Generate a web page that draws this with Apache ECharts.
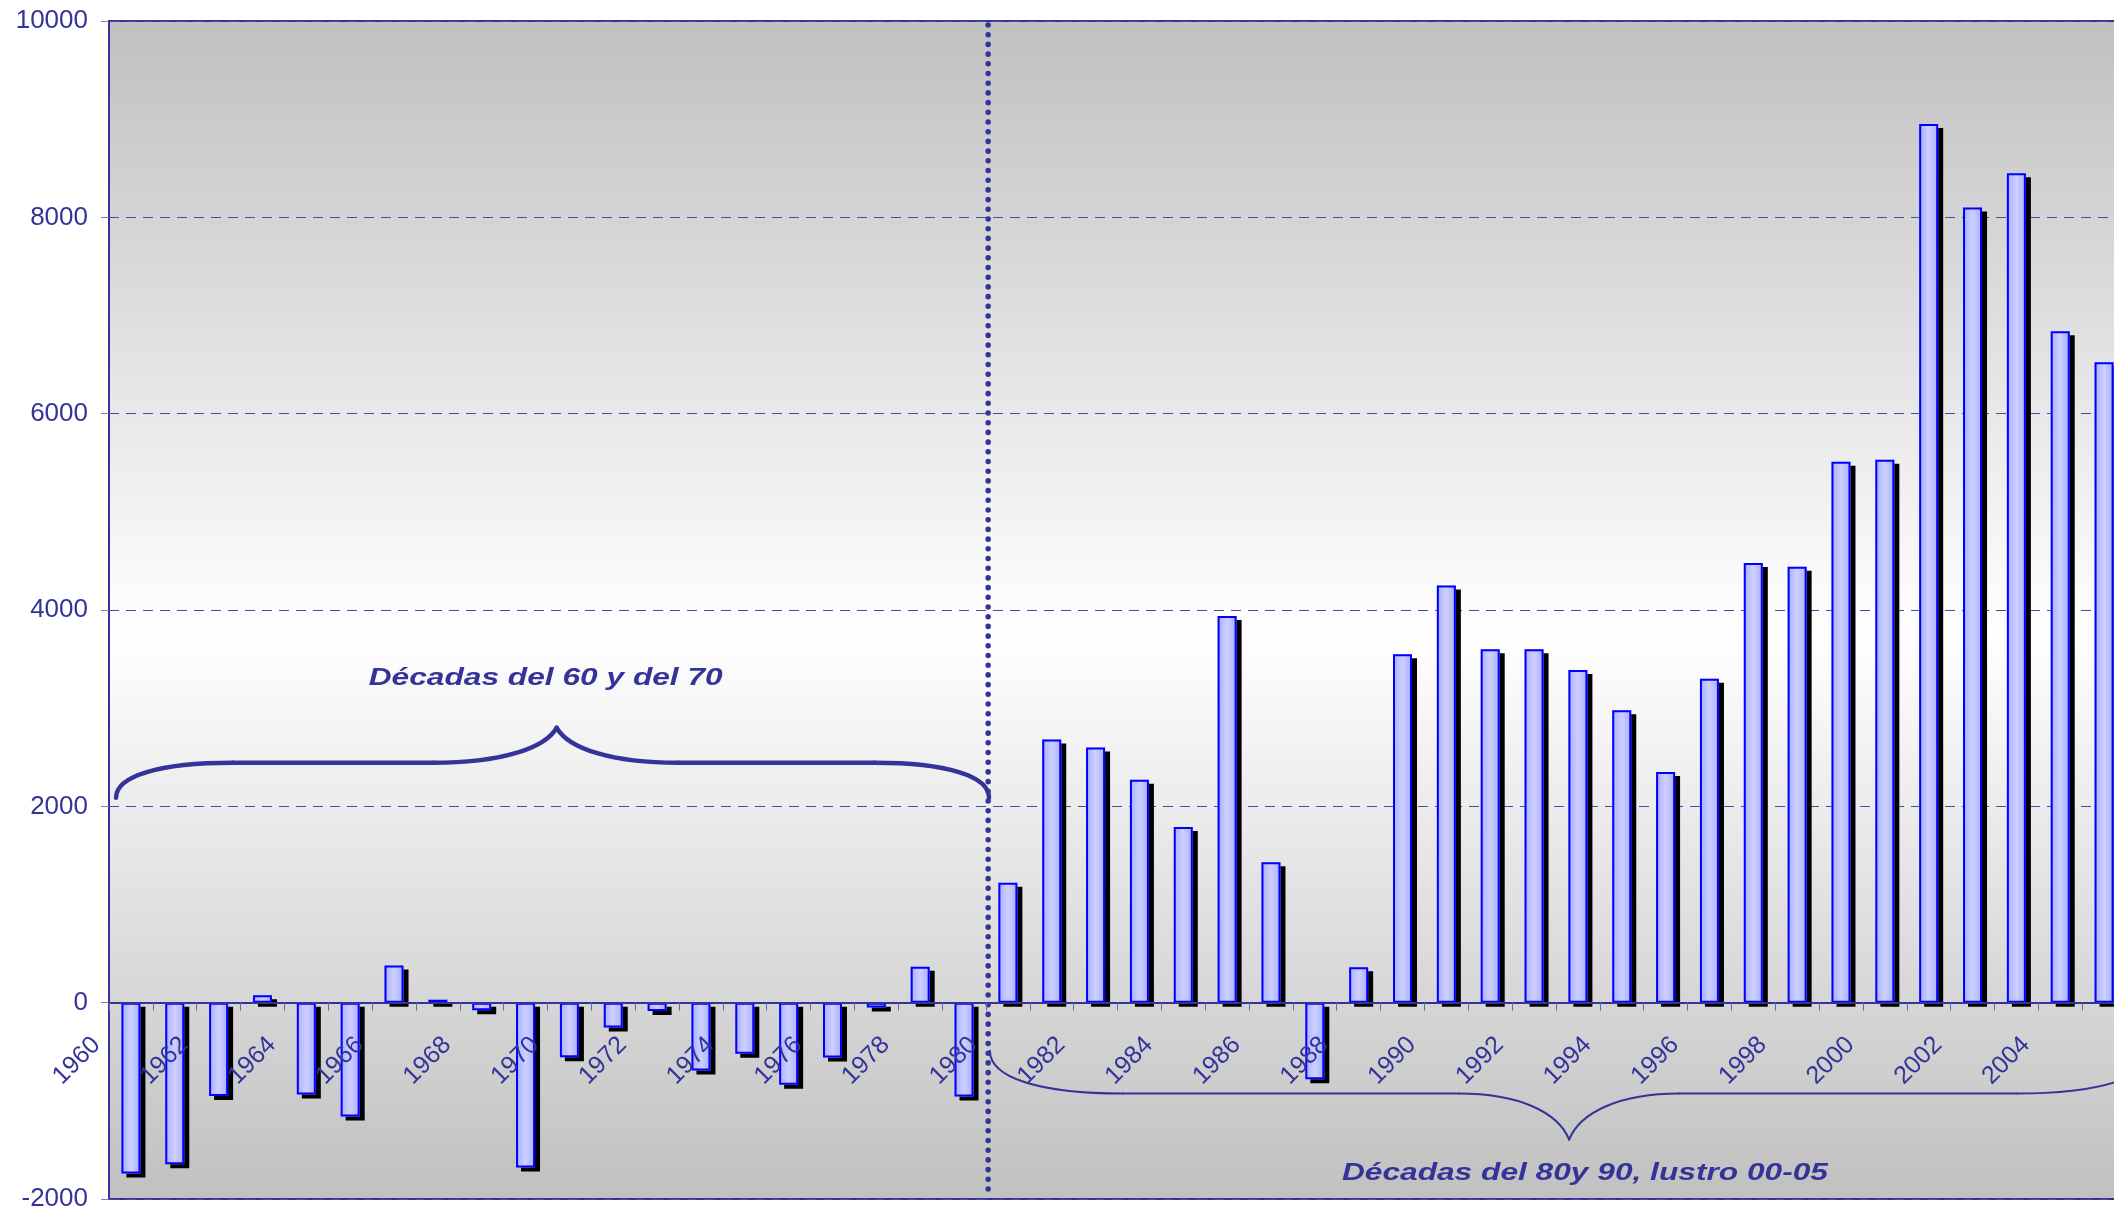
<!DOCTYPE html>
<html>
<head>
<meta charset="utf-8">
<script src="https://cdn.jsdelivr.net/npm/echarts/dist/echarts.min.js"></script>
<style>
html,body{margin:0;padding:0;background:#ffffff;}
#chart{width:2114px;height:1207px;}
</style>
</head>
<body>
<div id="chart"></div>
<script>
// ---- data ----
const years = ['1960','1961','1962','1963','1964','1965','1966','1967','1968','1969',
               '1970','1971','1972','1973','1974','1975','1976','1977','1978','1979',
               '1980','1981','1982','1983','1984','1985','1986','1987','1988','1989',
               '1990','1991','1992','1993','1994','1995','1996','1997','1998','1999',
               '2000','2001','2002','2003','2004','2005'];
const values = [-1740,-1645,-950,75,-935,-1160,378,30,-78,-1680,
                -555,-252,-85,-690,-520,-835,-558,-50,365,-957,
                1222,2680,2600,2270,1790,3940,1430,-780,360,3550,
                4250,3600,3600,3390,2980,2350,3300,4480,4440,5510,
                5530,8950,8100,8450,6840,6525];
const yTicks = [-2000,0,2000,4000,6000,8000,10000];
const annotationTexts = ['Décadas del 60 y del 70','Décadas del 80y 90, lustro 00-05'];

// ---- annotation geometry (in data coordinates: category index, value) ----
const dividerAt = 19.55;
const braceTop = {from:-0.34, to:19.57, tip:9.71, end:2087, mid:2443, peak:2800, a:0.265, b:0.28, width:4.5};
const braceBottom = {from:19.59, to:46.05, tip:32.8, end:-489, mid:-926, peak:-1395, a:0.23, b:0.19, width:2};
const textPos = [[9.46, 3308],[33.16, -1741]];

const C_DARK = '#333399';
const GRID = {left:109, top:21, width:2017, height:1178};
const yMin = yTicks[0], yMax = yTicks[yTicks.length-1];
const zeroFromBottom = GRID.height * (0 - yMin) / (yMax - yMin);

const chart = echarts.init(document.getElementById('chart'), null, {renderer:'canvas'});

const barFill = {type:'linear',x:0,y:0,x2:1,y2:0,colorStops:[
  {offset:0,color:'#a9adff'},{offset:0.5,color:'#cdd0ff'},{offset:1,color:'#a9adff'}]};

const option = {
  animation:false,
  backgroundColor:'#ffffff',
  grid:{
    left:GRID.left, top:GRID.top, width:GRID.width, height:GRID.height,
    outerBoundsMode:'none', containLabel:false,
    show:true, borderColor:C_DARK, borderWidth:2,
    backgroundColor:{type:'linear',x:0,y:0,x2:0,y2:1,colorStops:[
      {offset:0,color:'#c0c0c0'},{offset:0.52,color:'#ffffff'},{offset:1,color:'#c0c0c0'}]}
  },
  xAxis:[{
    type:'category', data:years, boundaryGap:true, position:'bottom',
    offset:-zeroFromBottom, z:10,
    axisLine:{show:true, onZero:false, lineStyle:{color:C_DARK, width:2}},
    axisTick:{show:true, interval:0, length:8, lineStyle:{color:'#6a6ab0', width:1}},
    axisLabel:{show:true, interval:1, rotate:45, margin:4, hideOverlap:false,
      formatter:function(v){ return v + '       '; },
      color:C_DARK, fontFamily:'Liberation Sans', fontSize:25},
    splitLine:{show:false}
  },{
    type:'value', min:-0.5, max:45.5, show:false
  }],
  yAxis:{
    type:'value', min:yMin, max:yMax, interval:2000,
    axisLine:{show:true, onZero:false, lineStyle:{color:C_DARK, width:2}},
    axisTick:{show:true, length:8, lineStyle:{color:'#8080c0', width:1}},
    axisLabel:{margin:21, color:C_DARK, fontFamily:'Liberation Sans', fontSize:26,
      formatter:function(v){ return String(v); }},
    splitLine:{show:true, lineStyle:{color:'#4a4aa0', width:1, type:[10,7]}}
  },
  series:[{
    type:'bar', xAxisIndex:0, yAxisIndex:0, data:values, barWidth:19,
    itemStyle:{color:barFill, borderWidth:0,
      shadowColor:'#000000', shadowOffsetX:5, shadowOffsetY:4, shadowBlur:0},
    emphasis:{disabled:true}, silent:true
  },{
    type:'bar', xAxisIndex:0, yAxisIndex:0, data:values, barWidth:19, barGap:'-100%',
    itemStyle:{color:'rgba(0,0,0,0)', borderColor:'#0000ff', borderWidth:2},
    emphasis:{disabled:true}, silent:true
  },{
    type:'line', xAxisIndex:1, yAxisIndex:0,
    data:[[dividerAt, 9960],[dividerAt, -1900]],
    symbol:'none', showSymbol:false, z:5, silent:true,
    lineStyle:{color:C_DARK, width:5.5, type:[0.1,9.6], cap:'round'}
  }]
};
chart.setOption(option);

function px(ix, v){ return chart.convertToPixel({seriesIndex:2}, [ix, v]); }

function braceElements(b){
  const L = px(b.from, b.end), R = px(b.to, b.end), T = px(b.tip, b.peak), M = px(b.tip, b.mid);
  const xl = L[0], xr = R[0], xt = T[0], yE = L[1], yM = M[1], yT = T[1];
  const hw = xt - xl, hw2 = xr - xt;
  const aL = b.a*hw, bL = b.b*hw, aR = b.a*hw2, bR = b.b*hw2;
  const dEM = yM - yE, dMT = yT - yM;
  const st = {stroke:C_DARK, lineWidth:b.width, fill:null, lineCap:'round'};
  const curve = (x1,y1,c1x,c1y,c2x,c2y,x2,y2) => ({type:'bezierCurve', silent:true,
    shape:{x1:x1,y1:y1,cpx1:c1x,cpy1:c1y,cpx2:c2x,cpy2:c2y,x2:x2,y2:y2}, style:st});
  const line = (x1,y1,x2,y2) => ({type:'line', silent:true, shape:{x1:x1,y1:y1,x2:x2,y2:y2}, style:st});
  return [
    curve(xl,yE, xl,yE+0.63*dEM, xl+0.37*aL,yM, xl+aL,yM),
    line(xl+aL,yM, xt-bL,yM),
    curve(xt-bL,yM, xt-0.46*bL,yM, xt-0.1*bL,yM+0.4*dMT, xt,yT),
    curve(xt,yT, xt+0.1*bR,yM+0.4*dMT, xt+0.46*bR,yM, xt+bR,yM),
    line(xt+bR,yM, xr-aR,yM),
    curve(xr-aR,yM, xr-0.37*aR,yM, xr,yE+0.63*dEM, xr,yE)
  ];
}

function textEl(i){
  const p = px(textPos[i][0], textPos[i][1]);
  return {type:'text', x:p[0], y:p[1], scaleX:1.32, silent:true, z:10,
    style:{text:annotationTexts[i], fill:C_DARK,
      font:'italic bold 24px "Liberation Sans", Arial, sans-serif',
      fontStyle:'italic', fontWeight:'bold', fontSize:24, fontFamily:'Liberation Sans',
      align:'center', verticalAlign:'middle', textAlign:'center', textVerticalAlign:'middle'}};
}

chart.setOption({graphic:{elements:[].concat(
  braceElements(braceTop), braceElements(braceBottom), [textEl(0), textEl(1)]
)}});
</script>
</body>
</html>
